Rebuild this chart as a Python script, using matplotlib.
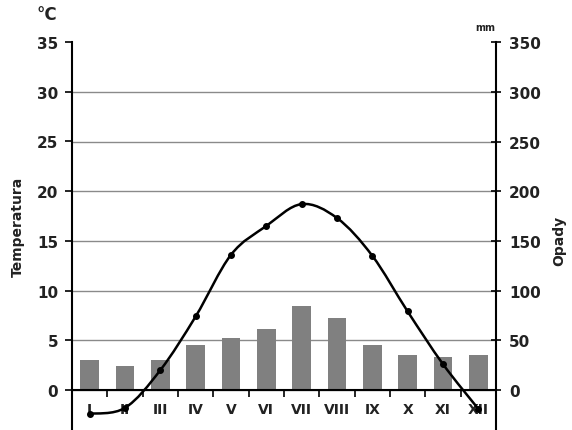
import numpy as np
import matplotlib.pyplot as plt
from matplotlib.path import Path
from matplotlib.patches import PathPatch

# months and climate values
months = ['I', 'II', 'III', 'IV', 'V', 'VI', 'VII', 'VIII', 'IX', 'X', 'XI', 'XII']
temperature = [-2.4, -1.8, 2.0, 7.4, 13.6, 16.5, 18.7, 17.3, 13.5, 7.9, 2.6, -1.9]
precipitation = [30, 24, 30, 45, 52, 62, 85, 73, 45, 35, 33, 35]

temp_ticks = [0, 5, 10, 15, 20, 25, 30, 35]
prec_ticks = [0, 50, 100, 150, 200, 250, 300, 350]

text_col = '#222222'
plt.rcParams['font.family'] = 'DejaVu Sans'
plt.rcParams['font.weight'] = 'bold'

fig = plt.figure(figsize=(5.72, 4.31), dpi=100)
ax = fig.add_axes([0.126, 0.0, 0.741, 0.900])
ax2 = ax.twinx()

x = np.arange(1, len(months) + 1)

##### precipitation bars (right axis) #####
ax2.bar(x, precipitation, width=0.53, color='#808080', zorder=2)
ax2.set_ylim(-40, 350)
ax2.set_yticks(prec_ticks)
ax2.yaxis.grid(True, color='#8a8a8a', linewidth=1.0, zorder=0)
ax2.get_ygridlines()[-1].set_visible(False)   # no line on top value
ax2.set_axisbelow(True)
ax2.tick_params(axis='y', direction='inout', length=7, width=1.2,
                labelsize=11, labelcolor=text_col, pad=6)
for s in ['top', 'bottom', 'left']:
    ax2.spines[s].set_visible(False)
ax2.spines['right'].set_linewidth(1.5)
ax2.set_ylabel('Opady', fontsize=10, fontweight='bold', color=text_col)
ax2.yaxis.set_label_coords(1.132, 0.489)

##### temperature curve (left axis), smoothed like the original #####
ax.set_zorder(ax2.get_zorder() + 1)
ax.patch.set_visible(False)
ax.set_xlim(0.5, 12.5)
ax.set_ylim(-4.03, 35)

pts = np.column_stack([x, temperature]).astype(float)
verts = [pts[0]]
codes = [Path.MOVETO]
n = len(pts)
for i in range(n - 1):
    p0 = pts[max(i - 1, 0)]
    p1 = pts[i]
    p2 = pts[i + 1]
    p3 = pts[min(i + 2, n - 1)]
    verts += [p1 + (p2 - p0) / 6.0, p2 - (p3 - p1) / 6.0, p2]
    codes += [Path.CURVE4] * 3
ax.add_patch(PathPatch(Path(verts, codes), fill=False, edgecolor='black',
                       linewidth=1.8, zorder=3))
ax.plot(x, temperature, 'o', color='black', markersize=4, zorder=4)

ax.set_yticks(temp_ticks)
ax.tick_params(axis='y', direction='out', length=5, width=1.2,
               labelsize=11, labelcolor=text_col, pad=5)
ax.set_xticks(x)
ax.set_xticklabels(months)
ax.set_xticks(np.arange(1.5, 12.5, 1.0), minor=True)
ax.tick_params(axis='x', which='major', length=0, labelsize=10,
               labelcolor=text_col, pad=9)
ax.tick_params(axis='x', which='minor', direction='out', length=5, width=1.2)
ax.spines['bottom'].set_position(('data', 0))
ax.spines['bottom'].set_linewidth(1.5)
ax.spines['left'].set_linewidth(1.5)
ax.spines['top'].set_visible(False)
ax.spines['right'].set_visible(False)
ax.set_ylabel('Temperatura', fontsize=10, fontweight='bold', color=text_col)
ax.yaxis.set_label_coords(-0.111, 0.525)

# units above the axes
fig.text(0.082, 0.965, '°C', fontsize=12, fontweight='bold', color=text_col,
         ha='center', va='center')
fig.text(0.849, 0.936, 'mm', fontsize=7, fontweight='bold', color=text_col,
         ha='center', va='center')

plt.savefig('out.png', dpi=100)
